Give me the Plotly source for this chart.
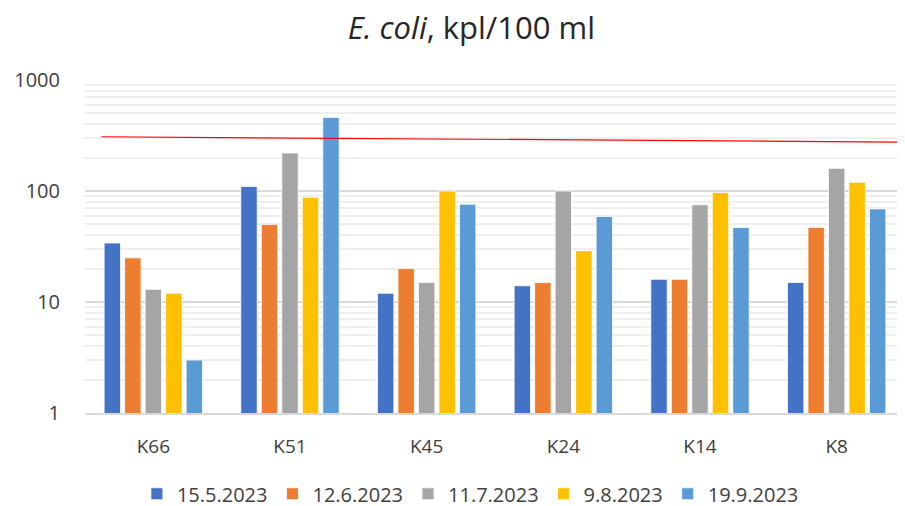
import plotly.graph_objects as go

categories = ["K66", "K51", "K45", "K24", "K14", "K8"]
dates = ["15.5.2023", "12.6.2023", "11.7.2023", "9.8.2023", "19.9.2023"]
v_15_5 = [34, 110, 12, 14, 16, 15]
v_12_6 = [25, 50, 20, 15, 16, 47]
v_11_7 = [13, 220, 15, 100, 75, 160]
v_9_8 = [12, 88, 100, 29, 97, 120]
v_19_9 = [3, 460, 76, 59, 47, 69]
series = [v_15_5, v_12_6, v_11_7, v_9_8, v_19_9]
colors = ["#4472C4", "#ED7D31", "#A5A5A5", "#FFC000", "#5B9BD5"]

limit_x = [-0.38, 5.45]
limit_y = [308, 276]

xpos = list(range(len(categories)))

fig = go.Figure()
for name, vals, c in zip(dates, series, colors):
    fig.add_trace(go.Bar(x=xpos, y=vals, name=name, marker=dict(color=c, line=dict(color="white", width=0.8))))

fig.add_trace(go.Scatter(x=limit_x, y=limit_y, mode="lines", line=dict(color="#FF0000", width=1.2),
                         showlegend=False, hoverinfo="skip"))

font = "Open Sans"
fig.update_layout(
    width=905, height=506,
    paper_bgcolor="white", plot_bgcolor="white",
    margin=dict(l=77, r=8, t=72, b=101, autoexpand=False),
    barmode="group", bargap=0.25, bargroupgap=0.2,
    font=dict(family=font, color="#404040", size=18),
    title=dict(text="<i>E. coli</i>, kpl/100 ml", x=0.512, xref="container", xanchor="center",
               y=0.96, yref="container", yanchor="middle",
               font=dict(size=31, family=font, color="#262626")),
    legend=dict(orientation="h", x=0.47, xanchor="center", y=0.04, yref="container", yanchor="middle",
                font=dict(size=20, color="#404040"), itemwidth=30, traceorder="normal"),
    showlegend=True,
)
fig.update_xaxes(range=[-0.5, 5.5], tickvals=xpos, ticktext=categories, showgrid=False, zeroline=False,
                 showline=True, linecolor="#d9d9d9", linewidth=1.5, ticks="",
                 tickfont=dict(size=19, color="#404040"), ticklabelstandoff=15)
fig.update_yaxes(type="log", range=[0, 3], tickvals=[1, 10, 100, 1000], ticktext=["1", "10", "100", "1000"],
                 showgrid=True, gridcolor="#d9d9d9", gridwidth=1.5, zeroline=False,
                 minor=dict(showgrid=True, gridcolor="#efefef", gridwidth=1.5, dtick="D1", ticks=""),
                 tickfont=dict(size=20, color="#404040"), ticklabelstandoff=24)

fig.write_html("out.html")
